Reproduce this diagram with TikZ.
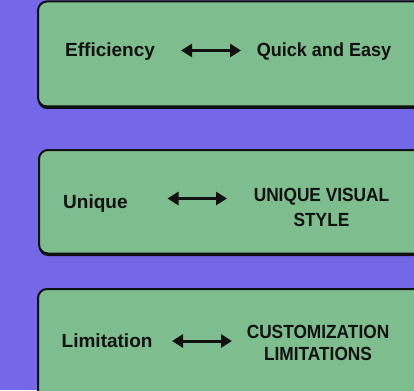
\documentclass[tikz,border=0pt]{standalone}
\usepackage{fontspec}
\setmainfont{Liberation Sans}
\newfontfamily\capsfont{Liberation Sans}[FakeStretch=0.91]
\newfontfamily\narrowfont{Liberation Sans}[FakeStretch=0.95]
\usetikzlibrary{arrows.meta}
\definecolor{bgpurple}{HTML}{7468E8}
\definecolor{boxgreen}{HTML}{7EBD8E}
\definecolor{ink}{HTML}{111111}
\begin{document}
\begin{tikzpicture}[x=1pt,y=-1pt,
  card/.style={draw=ink,line width=2pt,fill=boxgreen,rounded corners=9pt},
  cardshadow/.style={fill=ink,rounded corners=9pt},
  lbl/.style={font=\bfseries\fontsize{19}{22}\selectfont,text=ink,inner sep=0pt},
  narrowlbl/.style={font=\narrowfont\bfseries\fontsize{19}{22}\selectfont,text=ink,inner sep=0pt},
  caps/.style={font=\capsfont\bfseries\fontsize{19}{22}\selectfont,text=ink,inner sep=0pt,align=center},
  biarrow/.style={draw=ink,line width=3pt,{Triangle[length=11pt,width=13pt]}-{Triangle[length=11pt,width=13pt]}}]
\useasboundingbox (0,0) rectangle (414,390);
\fill[bgpurple] (0,0) rectangle (414,390);
\clip (0,0) rectangle (414,390);
% cards
\fill[cardshadow] (38,4) rectangle (440,109);
\draw[card] (38,1.5) rectangle (440,106.5);
\fill[cardshadow] (39,152.5) rectangle (440,256);
\draw[card] (39,150) rectangle (440,253.5);
\fill[cardshadow] (38,291.5) rectangle (440,420);
\draw[card] (38,289) rectangle (440,418);
% row 1
\node[lbl,anchor=base west] (eff) at (65,56.7) {Efficiency};
\node[narrowlbl,anchor=base] (qe) at (324,56.7) {Quick and Easy};
\coordinate (a1s) at (181,50.5);
\coordinate (a1e) at (241,50.5);
\draw[biarrow] (a1s) -- (a1e);
% row 2
\node[lbl,anchor=base west] (uni) at (63,208.3) {Unique};
\node[caps,anchor=base] (uvs) at (321.5,226.7) {UNIQUE VISUAL\\[3pt]STYLE};
\coordinate (a2s) at (167.5,198.5);
\coordinate (a2e) at (227,198.5);
\draw[biarrow] (a2s) -- (a2e);
% row 3
\node[lbl,anchor=base west] (lim) at (61.5,347.3) {Limitation};
\node[caps,anchor=base] (cl) at (318,360) {CUSTOMIZATION\\LIMITATIONS};
\coordinate (a3s) at (172,341);
\coordinate (a3e) at (232,341);
\draw[biarrow] (a3s) -- (a3e);
\end{tikzpicture}
\end{document}
